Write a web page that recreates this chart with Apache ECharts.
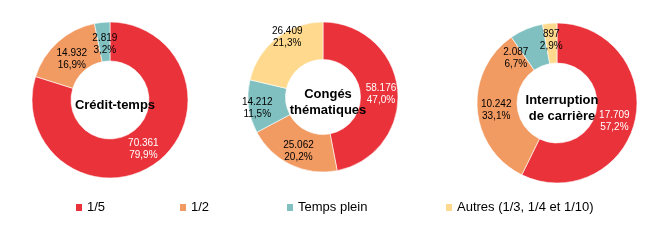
<!DOCTYPE html>
<html><head><meta charset="utf-8">
<script src="https://cdn.jsdelivr.net/npm/echarts@6/dist/echarts.min.js"></script>
<style>html,body{margin:0;padding:0;background:#fff}#c{width:662px;height:246px}</style>
</head><body><div id="c"></div>
<script>
const categories = ['1/5', '1/2', 'Temps plein', 'Autres (1/3, 1/4 et 1/10)'];
const pieTitles = ['Crédit-temps', 'Congés\nthématiques', 'Interruption\nde carrière'];
const creditTemps = [70361, 14932, 2819, 0];
const congesThematiques = [58176, 25062, 14212, 26409];
const interruptionCarriere = [17709, 10242, 2087, 897];
const colors = ['#E9323A', '#F19A62', '#80C0C0', '#FED98E'];

const allValues = [creditTemps, congesThematiques, interruptionCarriere];
const centers = [[110, 100], [323, 97], [557, 103]];
const radii = [78, 75, 80];
// small label nudges (px) to mimic the reference's label placement
const labelNudges = [
  [[-3, 0], [3, 5], [1, 5], [0, 0]],
  [[-1, 3], [1, 1], [-7, 4], [1, -13]],
  [[-4, 4], [2, 3], [-17, 13], [0, 0]]
];

function fmtNum(v) { return String(v).replace(/\B(?=(\d{3})+(?!\d))/g, '.'); }

const series = allValues.map((vals, i) => {
  const sum = vals.reduce((a, b) => a + b, 0);
  const data = [];
  vals.forEach((v, k) => {
    if (v > 0) data.push({
      name: categories[k], value: v,
      itemStyle: { color: colors[k] },
      label: { color: k === 0 ? '#fff' : '#000', offset: labelNudges[i][k] },
      pct: (v / sum * 100).toFixed(1).replace('.', ',') + '%'
    });
  });
  return {
    type: 'pie',
    center: centers[i],
    radius: [radii[i] * 0.5, radii[i]],
    startAngle: 90,
    clockwise: true,
    avoidLabelOverlap: false,
    minShowLabelAngle: 0,
    silent: true,
    animation: false,
    itemStyle: { borderColor: '#fff', borderWidth: 0.6 },
    label: {
      show: true, position: 'inside',
      fontFamily: 'Liberation Sans, Arial', fontSize: 10, lineHeight: 12,
      formatter: p => fmtNum(p.value) + '\n' + p.data.pct
    },
    labelLayout: { hideOverlap: false },
    labelLine: { show: false },
    data: data
  };
});

const legendLefts = [76, 180, 287, 446];
const legends = categories.map((c, k) => ({
  data: [c], left: legendLefts[k], top: 201, padding: 0,
  itemWidth: 6, itemHeight: 7, icon: 'rect', selectedMode: false,
  itemStyle: { borderWidth: 0 },
  textStyle: { fontFamily: 'Liberation Sans, Arial', fontSize: 13, color: '#000' }
}));

const titles = pieTitles.map((t, i) => ({
  text: t, left: centers[i][0], top: centers[i][1],
  textAlign: 'center', textVerticalAlign: 'middle',
  textStyle: { fontFamily: 'Liberation Sans, Arial', fontSize: 13, fontWeight: 'bold', color: '#000', lineHeight: 16 }
}));

const chart = echarts.init(document.getElementById('c'));
chart.setOption({
  animation: false,
  color: colors,
  title: titles,
  legend: legends,
  series: series
});
</script></body></html>
